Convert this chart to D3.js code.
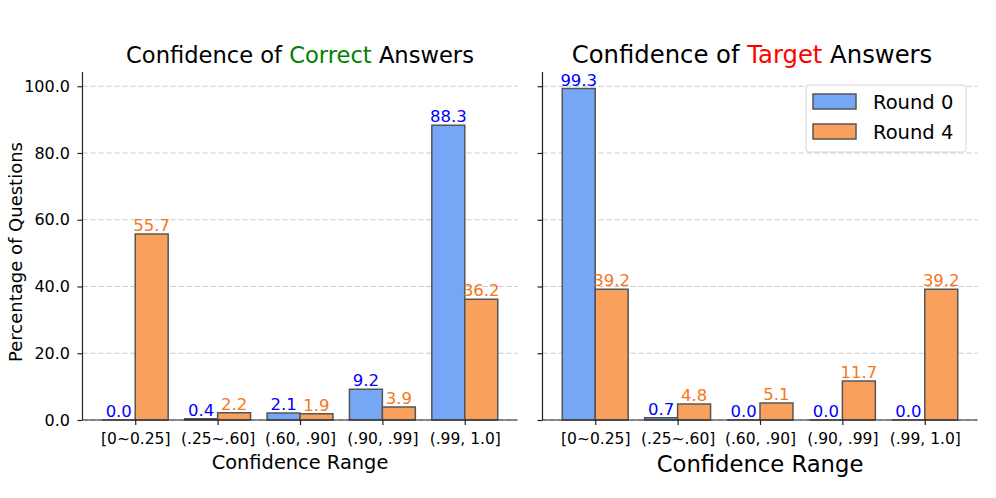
<!DOCTYPE html>
<html>
<head>
<meta charset="utf-8">
<script src="https://cdn.jsdelivr.net/npm/d3@7"></script>
<style>
  body { margin: 0; background: #fff; }
  svg { display: block; font-family: "DejaVu Sans", sans-serif; }
  .grid line { stroke: #c8c8c8; stroke-dasharray: 5,3; stroke-width: 1; }
  .axis path, .axis line { stroke: #222; stroke-width: 1.2; }
  .axis text { fill: #000; }
</style>
</head>
<body>
<svg id="chart" width="996" height="498"></svg>
<script>
var categories = ['[0~0.25]', '(.25~.60]', '(.60, .90]', '(.90, .99]', '(.99, 1.0]'];
var seriesNames = ['Round 0', 'Round 4'];
var yTicks = [0, 20, 40, 60, 80, 100];

// Confidence of correct answers (%)
var correctRound0 = [0.0, 0.4, 2.1, 9.2, 88.3];
var correctRound4 = [55.7, 2.2, 1.9, 3.9, 36.2];

// Confidence of target answers (%)
var targetRound0 = [99.3, 0.7, 0.0, 0.0, 0.0];
var targetRound4 = [39.2, 4.8, 5.1, 11.7, 39.2];

var fillColors = ['#75a7f6', '#f9a05c'];
var labelColors = ['#0000ff', '#f5761a'];

var svg = d3.select('#chart');

var plotTop = 72, plotBottom = 420;
var y = d3.scaleLinear().domain([0, 99.3 * 1.05]).range([plotBottom, plotTop]);

function drawPanel(opts) {
  var x = d3.scaleLinear().domain([-0.64, categories.length - 1 + 0.64]).range([opts.left, opts.right]);
  var g = svg.append('g');

  // dashed grid lines
  g.append('g')
    .attr('class', 'grid')
    .selectAll('line')
    .data(yTicks)
    .enter().append('line')
    .attr('x1', opts.left)
    .attr('x2', opts.right)
    .attr('y1', function(d) { return y(d); })
    .attr('y2', function(d) { return y(d); });

  var barW = x(0.4) - x(0);
  [opts.s0, opts.s4].forEach(function(values, si) {
    g.append('g')
      .selectAll('path')
      .data(values)
      .enter().append('path')
      .attr('d', function(d, i) {
        var x0 = x(i) + (si === 0 ? -barW : 0);
        return 'M' + x0 + ',' + y(0) + 'V' + y(d) + 'H' + (x0 + barW) + 'V' + y(0) + 'Z';
      })
      .attr('fill', fillColors[si])
      .attr('stroke', '#555')
      .attr('stroke-width', 1.5);

    g.append('g')
      .selectAll('text')
      .data(values)
      .enter().append('text')
      .attr('x', function(d, i) { return x(i) + (si === 0 ? -barW / 2 : barW / 2); })
      .attr('y', function(d) { return y(d) - 3; })
      .attr('text-anchor', 'middle')
      .attr('font-size', '16.5px')
      .attr('fill', labelColors[si])
      .text(function(d) { return d.toFixed(1); });
  });

  var yAxis = d3.axisLeft(y).tickValues(yTicks).tickSize(5).tickPadding(7.5)
    .tickFormat(opts.yLabels ? d3.format('.1f') : '');
  g.append('g')
    .attr('class', 'axis')
    .attr('transform', 'translate(' + opts.left + ',0)')
    .call(yAxis)
    .call(function(s) {
      s.select('.domain').attr('d', 'M0,' + plotBottom + 'V' + plotTop);
      s.selectAll('text').attr('font-size', '16px').attr('font-family', 'DejaVu Sans');
    });

  var xAxis = d3.axisBottom(x).tickValues(d3.range(categories.length)).tickSize(5).tickPadding(8)
    .tickFormat(function(i) { return categories[i]; });
  g.append('g')
    .attr('class', 'axis')
    .attr('transform', 'translate(0,' + plotBottom + ')')
    .call(xAxis)
    .call(function(s) {
      s.select('.domain').attr('d', 'M' + opts.left + ',0H' + opts.right);
      s.selectAll('text').attr('font-size', '15.5px').attr('font-family', 'DejaVu Sans');
    });

  // title with coloured word
  var title = g.append('text')
    .attr('x', opts.titleX)
    .attr('y', 63)
    .attr('text-anchor', 'middle')
    .attr('font-size', opts.titleSize);
  title.append('tspan').text('Confidence of ');
  title.append('tspan').attr('fill', opts.wordColor).text(opts.word);
  title.append('tspan').text(' Answers');

  g.append('text')
    .attr('x', (opts.left + opts.right) / 2)
    .attr('y', opts.xLabelY)
    .attr('text-anchor', 'middle')
    .attr('font-size', opts.xLabelSize)
    .text('Confidence Range');

  return x;
}

drawPanel({
  left: 82.5, right: 517.5, s0: correctRound0, s4: correctRound4, yLabels: true,
  word: 'Correct', wordColor: '#008000', titleX: 300, titleSize: '22.6px',
  xLabelY: 469, xLabelSize: '19.4px'
});
drawPanel({
  left: 542.5, right: 977.5, s0: targetRound0, s4: targetRound4, yLabels: false,
  word: 'Target', wordColor: '#ff0000', titleX: 752, titleSize: '24.3px',
  xLabelY: 471.5, xLabelSize: '22.7px'
});

svg.append('text')
  .attr('transform', 'translate(22,252) rotate(-90)')
  .attr('text-anchor', 'middle')
  .attr('font-size', '18px')
  .text('Percentage of Questions');

// legend
var legend = svg.append('g').attr('transform', 'translate(806,85)');
legend.append('rect')
  .attr('width', 160).attr('height', 67).attr('rx', 3)
  .attr('fill', '#fff').attr('fill-opacity', 0.8)
  .attr('stroke', '#d6d6d6');
seriesNames.forEach(function(name, i) {
  legend.append('rect')
    .attr('x', 7).attr('y', 9 + i * 30)
    .attr('width', 43).attr('height', 15)
    .attr('fill', fillColors[i]).attr('stroke', '#555').attr('stroke-width', 1.5);
  legend.append('text')
    .attr('x', 67).attr('y', 23.5 + i * 30)
    .attr('font-size', '19.5px')
    .text(name);
});
</script>
</body>
</html>
